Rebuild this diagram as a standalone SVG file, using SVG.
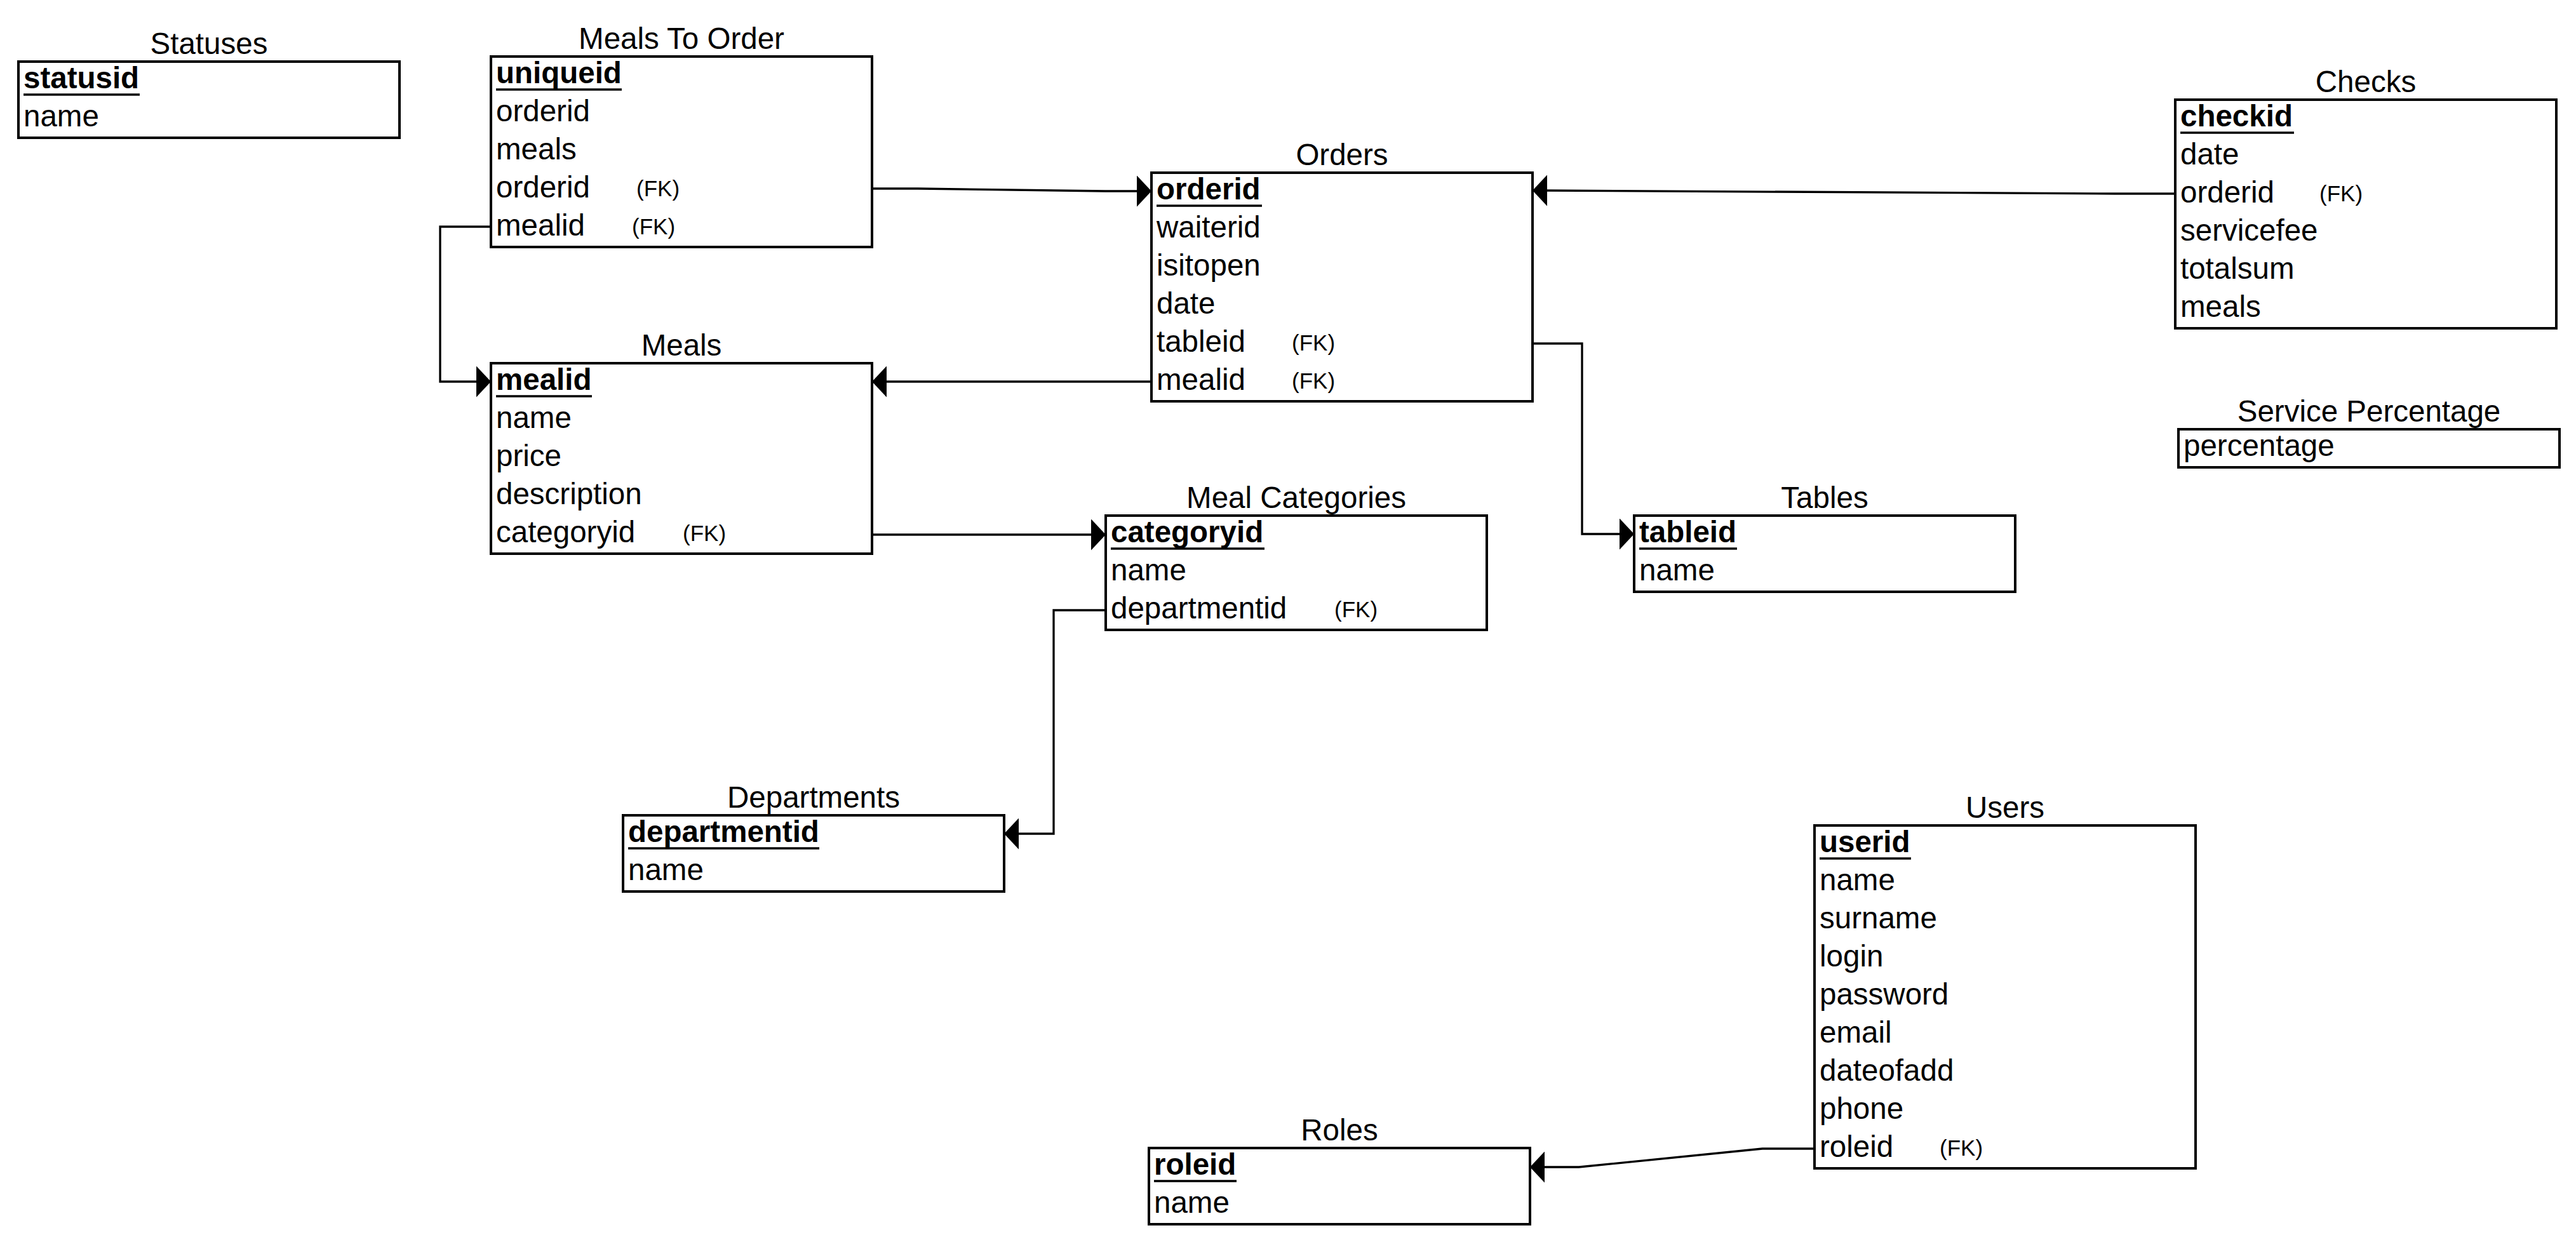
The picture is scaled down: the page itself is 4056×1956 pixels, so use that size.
<svg xmlns="http://www.w3.org/2000/svg" width="4056" height="1956" viewBox="0 0 4056 1956">
<style>
.box{fill:#fff;stroke:#000;stroke-width:4}
.t{font-family:"Liberation Sans",Arial,Helvetica,sans-serif;font-size:47.5px;fill:#000}
.pk{font-weight:bold}
.fk{font-size:35px}
.title{text-anchor:middle}
.ul{stroke:#000;stroke-width:3.3}
.conn{fill:none;stroke:#000;stroke-width:3.3}
</style>
<defs>
<marker id="arr" markerUnits="userSpaceOnUse" viewBox="0 0 23 49" markerWidth="23" markerHeight="49" refX="23" refY="24.5" orient="auto">
<path d="M0,0 L23,24.5 L0,49 Z" fill="#000"/>
</marker>
</defs>
<rect x="0" y="0" width="4056" height="1956" fill="#fff"/>

<g id="connectors">
<path class="conn" d="M1373,297 L1445,297 L1740,301 L1813,301" marker-end="url(#arr)"/>
<path class="conn" d="M3425,305 L3330,305 L2432,300 L2413,300" marker-end="url(#arr)"/>
<path class="conn" d="M1813,601 L1373,601" marker-end="url(#arr)"/>
<path class="conn" d="M2413,541 L2491,541 L2491,841 L2573,841" marker-end="url(#arr)"/>
<path class="conn" d="M773,357 L693,357 L693,601 L773,601" marker-end="url(#arr)"/>
<path class="conn" d="M1373,842 L1741,842" marker-end="url(#arr)"/>
<path class="conn" d="M1741,961 L1659,961 L1659,1313 L1581,1313" marker-end="url(#arr)"/>
<path class="conn" d="M2857,1809 L2775,1809 L2486,1838 L2409,1838" marker-end="url(#arr)"/>
</g>

<g id="statuses">
<text class="t title" x="329" y="85">Statuses</text>
<rect class="box" x="29" y="97" width="600" height="120"/>
<text class="t pk" x="37" y="139">statusid</text>
<line class="ul" x1="37" y1="149" x2="220" y2="149"/>
<text class="t" x="37" y="199">name</text>
</g>

<g id="meals-to-order">
<text class="t title" x="1073" y="77">Meals To Order</text>
<rect class="box" x="773" y="89" width="600" height="300"/>
<text class="t pk" x="781" y="131">uniqueid</text>
<line class="ul" x1="781" y1="141" x2="979" y2="141"/>
<text class="t" x="781" y="191">orderid</text>
<text class="t" x="781" y="251">meals</text>
<text class="t" x="781" y="311">orderid</text>
<text class="t fk" x="1002" y="309">(FK)</text>
<text class="t" x="781" y="371">mealid</text>
<text class="t fk" x="995" y="369">(FK)</text>
</g>

<g id="orders">
<text class="t title" x="2113" y="260">Orders</text>
<rect class="box" x="1813" y="272" width="600" height="360"/>
<text class="t pk" x="1821" y="314">orderid</text>
<line class="ul" x1="1821" y1="324" x2="1987" y2="324"/>
<text class="t" x="1821" y="374">waiterid</text>
<text class="t" x="1821" y="434">isitopen</text>
<text class="t" x="1821" y="494">date</text>
<text class="t" x="1821" y="554">tableid</text>
<text class="t fk" x="2034" y="552">(FK)</text>
<text class="t" x="1821" y="614">mealid</text>
<text class="t fk" x="2034" y="612">(FK)</text>
</g>

<g id="checks">
<text class="t title" x="3725" y="145">Checks</text>
<rect class="box" x="3425" y="157" width="600" height="360"/>
<text class="t pk" x="3433" y="199">checkid</text>
<line class="ul" x1="3433" y1="209" x2="3612" y2="209"/>
<text class="t" x="3433" y="259">date</text>
<text class="t" x="3433" y="319">orderid</text>
<text class="t fk" x="3652" y="317">(FK)</text>
<text class="t" x="3433" y="379">servicefee</text>
<text class="t" x="3433" y="439">totalsum</text>
<text class="t" x="3433" y="499">meals</text>
</g>

<g id="service-percentage">
<text class="t title" x="3730" y="664">Service Percentage</text>
<rect class="box" x="3430" y="676" width="600" height="60"/>
<text class="t" x="3438" y="718">percentage</text>
</g>

<g id="meals">
<text class="t title" x="1073" y="560">Meals</text>
<rect class="box" x="773" y="572" width="600" height="300"/>
<text class="t pk" x="781" y="614">mealid</text>
<line class="ul" x1="781" y1="624" x2="932" y2="624"/>
<text class="t" x="781" y="674">name</text>
<text class="t" x="781" y="734">price</text>
<text class="t" x="781" y="794">description</text>
<text class="t" x="781" y="854">categoryid</text>
<text class="t fk" x="1075" y="852">(FK)</text>
</g>

<g id="meal-categories">
<text class="t title" x="2041" y="800">Meal Categories</text>
<rect class="box" x="1741" y="812" width="600" height="180"/>
<text class="t pk" x="1749" y="854">categoryid</text>
<line class="ul" x1="1749" y1="864" x2="1991" y2="864"/>
<text class="t" x="1749" y="914">name</text>
<text class="t" x="1749" y="974">departmentid</text>
<text class="t fk" x="2101" y="972">(FK)</text>
</g>

<g id="tables">
<text class="t title" x="2873" y="800">Tables</text>
<rect class="box" x="2573" y="812" width="600" height="120"/>
<text class="t pk" x="2581" y="854">tableid</text>
<line class="ul" x1="2581" y1="864" x2="2735" y2="864"/>
<text class="t" x="2581" y="914">name</text>
</g>

<g id="departments">
<text class="t title" x="1281" y="1272">Departments</text>
<rect class="box" x="981" y="1284" width="600" height="120"/>
<text class="t pk" x="989" y="1326">departmentid</text>
<line class="ul" x1="989" y1="1336" x2="1290" y2="1336"/>
<text class="t" x="989" y="1386">name</text>
</g>

<g id="users">
<text class="t title" x="3157" y="1288">Users</text>
<rect class="box" x="2857" y="1300" width="600" height="540"/>
<text class="t pk" x="2865" y="1342">userid</text>
<line class="ul" x1="2865" y1="1352" x2="3009" y2="1352"/>
<text class="t" x="2865" y="1402">name</text>
<text class="t" x="2865" y="1462">surname</text>
<text class="t" x="2865" y="1522">login</text>
<text class="t" x="2865" y="1582">password</text>
<text class="t" x="2865" y="1642">email</text>
<text class="t" x="2865" y="1702">dateofadd</text>
<text class="t" x="2865" y="1762">phone</text>
<text class="t" x="2865" y="1822">roleid</text>
<text class="t fk" x="3054" y="1820">(FK)</text>
</g>

<g id="roles">
<text class="t title" x="2109" y="1796">Roles</text>
<rect class="box" x="1809" y="1808" width="600" height="120"/>
<text class="t pk" x="1817" y="1850">roleid</text>
<line class="ul" x1="1817" y1="1860" x2="1947" y2="1860"/>
<text class="t" x="1817" y="1910">name</text>
</g>
</svg>
